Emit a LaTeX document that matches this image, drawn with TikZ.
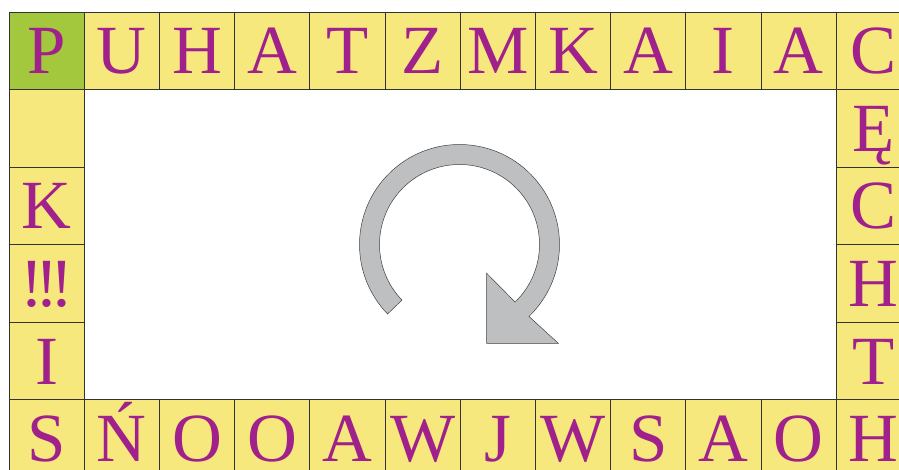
\documentclass[tikz,border=0pt]{standalone}
\usepackage{fontspec}
\setmainfont{Liberation Serif}
\usetikzlibrary{calc}
\definecolor{cellyellow}{RGB}{246,232,125}
\definecolor{startgreen}{RGB}{163,200,62}
\definecolor{letterpurple}{RGB}{160,32,140}
\definecolor{arrowgray}{RGB}{190,191,193}

\begin{document}
\begin{tikzpicture}[x=1pt,y=1pt,
  cell/.style={draw=black!80,line width=0.8pt,fill=cellyellow,minimum width=75.2pt,minimum height=77.5pt,inner sep=0pt,
    text=letterpurple,font=\fontsize{69}{69}\selectfont,text height=46.5pt,text depth=0pt},
  arrowbody/.style={draw=black!75,line width=0.5pt,fill=arrowgray}]
  \useasboundingbox (0,0) rectangle (899,-470);
  % top row
  \node (t1) [cell,fill=startgreen] at (46.6,-50.75) {P};
  \foreach \l [count=\i from 2] in {U,H,A,T,Z,M,K,A,I,A,C}
    \node (t\i) [cell] at ({9+75.2*(\i-0.5)},-50.75) {\l};
  % left and right columns
  \foreach \l [count=\j from 2] in {{},K,{!\kern-8pt!\kern-8pt!},I}
    \node (l\j) [cell] at (46.6,{-12-77.5*(\j-0.5)}) {\l};
  \foreach \l [count=\j from 2] in {Ę,C,H,T}
    \node (r\j) [cell] at ({9+75.2*11.5},{-12-77.5*(\j-0.5)}) {\l};
  % bottom row
  \foreach \l [count=\i] in {S,Ń,O,O,A,W,J,W,S,A,O,H}
    \node (b\i) [cell] at ({9+75.2*(\i-0.5)},-438.25) {\l};
  % turn arrow
  \coordinate (ctr) at (459.5,-244.5);
  \draw[arrowbody] ($(ctr)+(224:100)$) arc[start angle=224,end angle=-46,radius=100]
    -- (558.3,-343.3) -- (486.7,-343.3) -- (486.7,-273.3)
    -- ($(ctr)+(-46:80)$) arc[start angle=-46,end angle=224,radius=80] -- cycle;
\end{tikzpicture}
\end{document}
